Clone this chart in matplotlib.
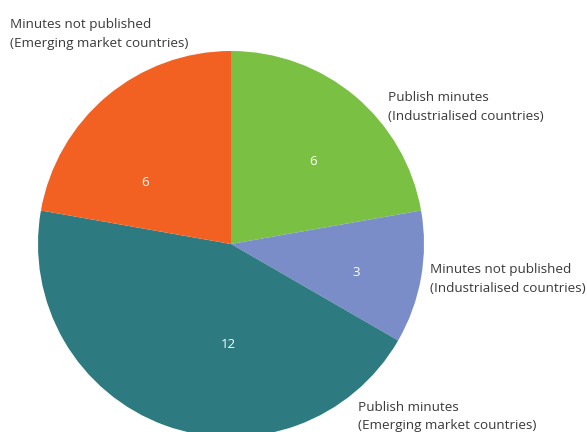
import numpy as np
import matplotlib
matplotlib.use("Agg")
import matplotlib.pyplot as plt

plt.rcParams['font.family'] = ['Open Sans', 'DejaVu Sans']

# slices, clockwise from 12 o'clock
labels = ["Publish minutes\n(Industrialised countries)",
          "Minutes not published\n(Industrialised countries)",
          "Publish minutes\n(Emerging market countries)",
          "Minutes not published\n(Emerging market countries)"]
counts = [6, 3, 12, 6]
colors = ["#7AC143", "#7B8DC9", "#2D7B80", "#F26122"]

W, H = 587, 432
fig = plt.figure(figsize=(W / 100, H / 100), dpi=100)

# pie centre and radius in pixels; axes box a little larger than the pie
cx, cy, r = 231, 244, 193
half = 200
ax = fig.add_axes([(cx - half) / W, (H - cy - half) / H, 2 * half / W, 2 * half / H])
wedges, _ = ax.pie(counts, colors=colors, startangle=90, counterclock=False,
                   radius=1.0, wedgeprops=dict(linewidth=0))
lim = half / r
ax.set_xlim(-lim, lim)
ax.set_ylim(-lim, lim)
ax.set_aspect('equal')
ax.axis('off')

# value labels inside the slices (angle in degrees, distance from centre)
inner_pos = [(45.2, 0.605), (-13.0, 0.665), (-91.5, 0.52), (144.5, 0.55)]
for n, (ang, dist) in zip(counts, inner_pos):
    a = np.radians(ang)
    ax.text(dist * np.cos(a), dist * np.sin(a), str(n), color="white",
            fontsize=9.5, ha='center', va='center')

# outer slice labels, top-left anchored in pixels
label_xy = [(388, 91), (430, 263), (358, 401), (10, 18)]
for txt, (x, y) in zip(labels, label_xy):
    fig.text(x / W, 1 - y / H, txt, color="#3a3a3a", fontsize=9.7,
             ha='left', va='top', linespacing=1.55)

fig.savefig("out.png", dpi=100)
